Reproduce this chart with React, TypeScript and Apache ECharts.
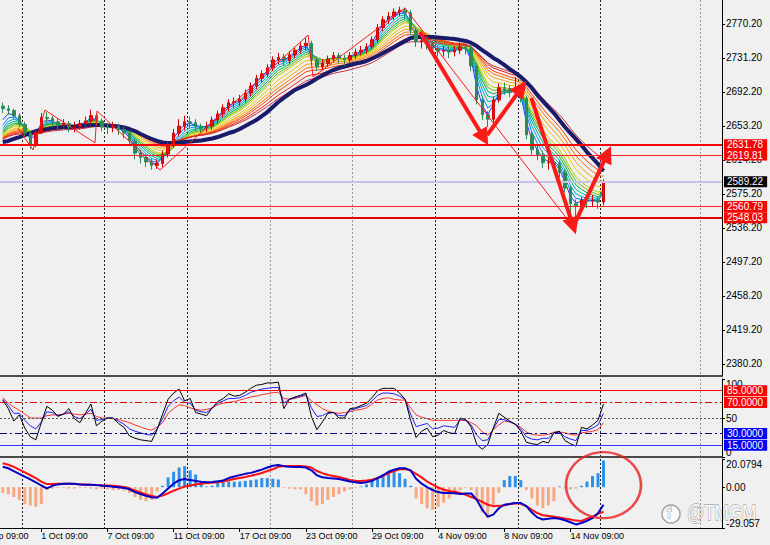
import React, { useEffect, useRef } from "react";
import * as echarts from "echarts";

const FONT = "Liberation Sans";
const N_SLOTS = 131;

const timeLabels = ["1 Oct 09:00", "7 Oct 09:00", "11 Oct 09:00", "17 Oct 09:00", "23 Oct 09:00", "29 Oct 09:00", "4 Nov 09:00", "8 Nov 09:00", "14 Nov 09:00"];
const timeLabelIdx = [7, 19, 31, 43, 55, 67, 79, 91, 103];
const cutLabel = "25 Sep 09:00";
const separatorIdx = [4, 19, 34, 49, 64, 79, 94, 109, 127];

// [open, close, low, high]
const candles = [
  [2676,2673,2668,2680],[2673,2671,2666,2677],[2671,2665,2661,2673],[2665,2655,2652,2668],[2655,2645,2641,2658],
  [2645,2632,2627,2648],[2632,2646,2629,2649],[2646,2663,2644,2668],[2663,2662,2656,2669],[2662,2658,2652,2665],
  [2658,2654,2649,2662],[2654,2656,2650,2661],[2656,2652,2646,2659],[2652,2652,2646,2658],[2652,2656,2649,2660],
  [2656,2659,2652,2664],[2659,2665,2655,2672],[2665,2659,2654,2668],[2659,2652,2647,2662],[2652,2651,2644,2657],
  [2651,2653,2646,2658],[2653,2649,2643,2656],[2649,2645,2639,2652],[2645,2636,2630,2648],[2636,2622,2615,2639],
  [2622,2617,2610,2626],[2617,2612,2606,2621],[2612,2608,2603,2616],[2608,2610,2604,2615],[2610,2621,2606,2625],
  [2621,2631,2617,2636],[2631,2645,2628,2650],[2645,2653,2641,2661],[2653,2658,2648,2665],[2658,2657,2650,2664],
  [2657,2653,2647,2661],[2653,2651,2645,2656],[2651,2653,2646,2658],[2653,2660,2649,2664],[2660,2667,2656,2671],
  [2667,2674,2663,2678],[2674,2680,2670,2684],[2680,2681,2674,2686],[2681,2684,2676,2689],[2684,2691,2680,2695],
  [2691,2699,2687,2703],[2699,2708,2695,2712],[2708,2713,2703,2717],[2713,2720,2709,2724],[2720,2729,2716,2733],
  [2729,2732,2724,2737],[2732,2728,2722,2736],[2728,2735,2724,2739],[2735,2740,2731,2744],[2740,2745,2736,2749],
  [2745,2748,2740,2754],[2748,2729,2724,2751],[2729,2721,2716,2733],[2721,2725,2717,2730],[2725,2730,2721,2734],
  [2730,2734,2726,2738],[2734,2731,2725,2737],[2731,2729,2722,2735],[2729,2734,2725,2738],[2734,2738,2730,2742],
  [2738,2740,2734,2745],[2740,2744,2736,2748],[2744,2752,2741,2756],[2752,2766,2749,2770],[2766,2775,2762,2779],
  [2775,2779,2770,2784],[2779,2784,2775,2788],[2784,2786,2779,2790],[2786,2783,2776,2789],[2783,2763,2758,2786],
  [2763,2750,2744,2766],[2750,2751,2742,2756],[2751,2748,2741,2755],[2748,2742,2736,2751],[2742,2739,2733,2746],
  [2739,2740,2733,2745],[2740,2738,2731,2744],[2738,2740,2733,2745],[2740,2744,2736,2749],[2744,2742,2735,2748],
  [2742,2722,2716,2746],[2722,2683,2678,2725],[2683,2666,2660,2688],[2666,2661,2652,2670],[2661,2683,2657,2687],
  [2683,2697,2680,2702],[2697,2696,2689,2703],[2696,2692,2686,2700],[2692,2697,2688,2709],[2697,2685,2680,2700],
  [2685,2643,2638,2688],[2643,2626,2620,2647],[2626,2620,2614,2631],[2620,2611,2605,2624],[2611,2611,2603,2617],
  [2611,2610,2603,2616],[2610,2600,2594,2614],[2600,2582,2577,2603],[2582,2564,2537,2585],[2564,2561,2540,2569],
  [2561,2568,2555,2572],[2568,2567,2559,2573],[2567,2568,2560,2574],[2568,2566,2558,2572],[2566,2589.22,2562,2592],
];

const longMA = [
  2634.8,2636.0,2638.3,2640.5,2642.8,2645.1,2647.4,2648.6,2649.7,2650.9,
  2651.4,2652.0,2652.0,2652.6,2653.2,2653.7,2654.3,2654.3,2654.3,2653.7,
  2653.2,2652.6,2651.4,2649.7,2647.4,2644.0,2641.1,2638.3,2636.0,2634.2,
  2633.7,2633.7,2634.2,2634.8,2635.4,2636.0,2636.5,2637.7,2638.8,2640.5,
  2642.8,2645.1,2646.9,2649.7,2653.2,2656.6,2660.0,2664.6,2669.2,2674.9,
  2680.7,2685.3,2689.9,2694.5,2697.3,2700.2,2703.6,2707.7,2711.1,2714.5,
  2717.4,2719.7,2721.4,2723.2,2724.9,2726.0,2727.7,2730.6,2733.5,2736.9,
  2740.3,2743.8,2747.2,2750.7,2754.1,2755.3,2755.3,2755.3,2755.3,2754.7,
  2754.1,2753.5,2753.0,2751.8,2750.7,2748.4,2744.9,2740.3,2735.8,2731.2,
  2727.7,2723.2,2718.5,2714.0,2709.4,2703.6,2696.8,2688.7,2681.8,2674.9,
  2668.0,2660.0,2652.0,2645.1,2638.3,2631.4,2623.3,2616.5,2609.6,2601.5,
];

const ribbonPeriods = [2, 3, 4, 5, 6, 7, 8, 10, 12, 14, 16, 19, 22];

const rsiFast = [73,62,46,54,37,26,22,44,65,60,52,55,62,49,44,56,68,40,46,50,50,43,38,27,24,22,21,20,35,55,74,82,87,72,75,57,55,53,63,71,75,81,78,79,83,88,92,93,95,95,96,62,74,77,79,82,52,35,45,56,57,50,50,62,63,66,69,76,85,88,88,88,82,74,47,25,33,37,26,28,34,31,30,50,48,38,16,10,16,37,56,51,46,42,33,19,17,16,20,18,31,33,21,17,14,38,36,41,47,68];
const rsiMid = [74,66,56,56,47,40,36,45,58,57,53,55,58,52,49,55,61,47,48,50,50,46,42,36,33,31,29,28,36,49,65,72,77,70,69,60,58,57,63,69,72,75,75,76,79,83,85,87,88,89,89,69,74,76,78,80,63,52,53,57,57,53,53,60,62,64,66,72,79,82,82,81,78,74,55,39,41,43,36,37,40,39,38,48,47,41,28,21,22,36,48,48,45,42,36,26,23,22,24,24,31,32,26,23,21,34,34,37,41,56];
const rsiSlow = [76,69,64,60,55,50,50,50,53,54,54,55,56,55,54,55,56,52,50,50,49,48,46,44,41,38.5,36,34.5,38,44,56,62,67,66,63,61,60,61,63,67,69,70,71,73,75,77,78,80,81,82.5,83,75,74,75,77,79,72,67,62,59,57,56,57,58,60,61,63,68,73,75,76,74,73,73,63,54,51,49,47,47,47,47,47,47,47,44,40,32,28,35,41,46,45,42,38,32,29,28,28,29,32,32,31,29,28,31,32,33,35,44];

const macdHist = [-4,-5,-7,-9,-12,-13,-14,-12,-2,-1,-0.5,-0.5,-1,-1,-0.5,-0.5,-1,-1.5,-1,-1.5,-2,-2,-2.5,-4,-7,-9,-10,-9,-3,1,7,11,14,15,12,9,4,0.5,1,3,3.5,4,4,4,4.5,5,5.5,6.5,6.5,6,5.5,-0.5,-1,-1.5,-1.5,-5,-10,-13,-12,-9,-7,-5,-3,-1.5,-0.5,0.5,2,4,6,9,11,12,10,6,1,-8,-12,-15,-16,-14,-11,-8,-5,-2,-0.5,-2,-8,-18,-22,-14,-4,5,8,8,5,-2,-8,-13,-15,-13,-10,0.5,-1,-1.5,-1,1,4,8,10,19];
const macdMain = [14.6,13.5,11.5,9.5,7.5,5.5,3.5,1.2,-0.8,1.0,2.0,2.4,2.4,2.4,2.0,1.7,1.7,1.5,1.0,0.8,0.4,0,-0.5,-1.5,-3.5,-4.8,-6.2,-7.2,-7.5,-4.5,-1.0,2.5,5.0,5.8,5.2,4.4,3.8,3.6,3.7,4.2,4.8,6.5,7.6,8.6,9.5,10.2,11.3,12.5,14.0,15.3,15.8,15.0,14.6,14.4,14.4,14.0,12.0,8.5,7.0,6.5,6.2,5.8,5.0,4.0,3.5,3.0,3.5,4.5,6.5,8.5,11.0,12.5,13.5,13.5,12.0,6.0,2.5,0,-2.0,-3.5,-4.1,-4.1,-4.3,-4.8,-4.5,-4.5,-9,-16,-21,-19.5,-15,-12.5,-12,-11.3,-11.3,-13.5,-18,-21.5,-23,-22.5,-22,-22.5,-23.5,-25,-26.5,-25.5,-24,-22,-18.5,-12.5];
const macdSignal = [17.0,16.0,14.5,12.5,10.5,8.5,6.5,4.0,2.2,2.2,2.4,2.4,2.4,2.3,2.1,1.9,1.7,1.6,1.4,1.2,1.0,0.6,0.2,-0.8,-2.5,-3.8,-5.2,-6.3,-6.9,-6.0,-4.3,-2.5,-1.0,0.5,1.2,1.9,2.5,2.9,3.2,3.6,4.0,5.0,5.8,6.6,7.3,8.1,9.0,10.1,11.5,12.8,14.5,15.1,15.1,15.1,15.1,14.8,14.0,11.5,10.0,8.7,8.0,7.3,6.2,5.1,4.6,4.4,4.8,5.3,6.5,8.0,10.0,11.5,12.7,13.0,11.8,9.5,7.0,4.0,1.8,-0.2,-1.8,-2.7,-3.3,-4.1,-5.5,-7.0,-8.5,-10.5,-12.5,-13.5,-13.3,-12.8,-12.0,-11.5,-11.8,-13.5,-16.2,-18.5,-20.0,-20.5,-21.0,-21.5,-22.3,-23.0,-23.8,-24.0,-22.5,-21.0,-19.0,-17.5];

const priceTicks = [2380.2, 2419.2, 2458.2, 2497.2, 2536.2, 2575.2, 2614.2, 2653.2, 2692.2, 2731.2, 2770.2];
const priceMin = 2366.4;
const priceMax = 2797.7;
const priceLevels = [2631.78, 2619.81, 2560.79, 2548.03];
const bidPrice = 2589.22;
const rsiTicks = [0, 50, 100];
const rsiLevels = [85, 70, 50, 30, 15];
const macdTicks = [-29.057, 0, 20.0794];

// drawn annotations in (bar index, price) units
const zigzag = [[2.77,2650.9],[5.49,2625.6],[7.67,2671.5],[16.74,2633.7],[17.1,2670.4],[28.54,2602.7],[55.4,2757.5],[56.3,2709.4],[73.0,2788.5],[103.5,2537.3]];
const arrows = [
  [[75.7,2761.0],[87.3,2639.4]],
  [[87.9,2642.8],[94.1,2696.8]],
  [[95.9,2685.3],[103.5,2538.4]],
  [[103.9,2543.0],[109.7,2621.1]],
];
const circleAnchor = [109, 1.5];
const watermark = "@TMGM";

// styles
const ribbonColors = ["#1e3cff","#0080ff","#00a8d8","#00b0a0","#00b050","#60c000","#b8c800","#e8c800","#ffa000","#ff7000","#ff4000","#f02020","#c83040"];
const priceLevelStyles = [
  { color: "#ff0000", width: 2 },
  { color: "#ff2020", width: 1 },
  { color: "#ff2020", width: 1 },
  { color: "#e00000", width: 2 },
];
const rsiLevelStyles: any[] = [
  { color: "#ff0000", type: "solid", box: "#ff0000" },
  { color: "#e00000", type: [7, 3, 2, 3], box: "#ff0000" },
  { color: "#555555", type: [2, 2], box: null },
  { color: "#000080", type: [7, 3, 2, 3], box: "#0000ff" },
  { color: "#3333ff", type: "solid", box: "#0000ff" },
];
const sepColors = ["#222","#222","#222","#9a9a9a","#9a9a9a","#222","#222","#222","#9a9a9a","#222"];

function ema(src: number[], period: number, seed: number) {
  const k = 2 / (period + 1);
  let e = seed;
  return src.map((v) => {
    e = e + k * (v - e);
    return +e.toFixed(2);
  });
}

export default function App() {
  const ref = useRef<HTMLDivElement>(null);
  useEffect(() => {
    const chart = echarts.init(ref.current!, null, { renderer: "svg" });
    const categories = Array.from({ length: N_SLOTS }, (_, i) => {
      const k = timeLabelIdx.indexOf(i);
      return k >= 0 ? timeLabels[k] : String(i);
    });
    const sepFn = (i: number) => separatorIdx.includes(i);
    const labelFn = (i: number) => timeLabelIdx.includes(i);
    const closes = candles.map((c) => c[1]);
    const ribbons = ribbonPeriods.map((p) => ema(closes, p, longMA[0]));

    const boxLabel = (bg: string, digits: number) => ({
      show: true,
      position: "end",
      distance: 2,
      formatter: (p: any) => Number(p.value).toFixed(digits),
      color: "#ffffff",
      backgroundColor: bg,
      fontSize: 10,
      fontFamily: FONT,
      padding: [1, 4, 0, 3],
    });

    const catAxis = (gridIndex: number, extra: any) => ({
      type: "category",
      gridIndex,
      data: categories,
      boundaryGap: true,
      axisTick: { show: false },
      axisLabel: { show: false },
      splitLine: { show: true, interval: sepFn, lineStyle: { color: sepColors, type: [2, 2], width: 1 } },
      ...extra,
    });

    const yLabel = { fontSize: 10, fontFamily: FONT, color: "#000", margin: 4 };
    const yLine = { show: true, onZero: false, lineStyle: { color: "#000" } };

    const option: any = {
      animation: false,
      backgroundColor: "#f0f0f0",
      textStyle: { fontFamily: FONT },
      grid: [
        { left: 0, right: 48, top: 0, height: 376 },
        { left: 0, right: 48, top: 379, height: 78 },
        { left: 0, right: 48, top: 459, height: 69 },
      ],
      xAxis: [
        catAxis(0, { axisLine: { show: true, onZero: false, lineStyle: { color: "#4a4a4a", width: 2 } } }),
        { type: "value", gridIndex: 0, min: -0.5, max: N_SLOTS - 0.5, show: false, axisLine: { onZero: false } },
        catAxis(1, { axisLine: { show: true, onZero: false, lineStyle: { color: "#4a4a4a", width: 2 } } }),
        catAxis(2, {
          axisLine: { show: true, onZero: false, lineStyle: { color: "#000", width: 1 } },
          axisTick: { show: true, interval: labelFn, alignWithLabel: true, length: 4, lineStyle: { color: "#000" } },
          axisLabel: { show: true, interval: labelFn, align: "left", fontSize: 9, fontFamily: FONT, color: "#000", margin: 3 },
        }),
      ],
      yAxis: [
        {
          type: "value", gridIndex: 0, position: "right", min: priceMin, max: priceMax,
          axisLine: yLine,
          axisTick: { show: true, length: 3, customValues: priceTicks, lineStyle: { color: "#000" } },
          axisLabel: { ...yLabel, customValues: priceTicks, formatter: (v: number) => v.toFixed(2) },
          splitLine: { show: false },
        },
        {
          type: "value", gridIndex: 1, position: "right", min: 0, max: 100,
          axisLine: yLine,
          axisTick: { show: true, length: 3, customValues: rsiTicks, lineStyle: { color: "#000" } },
          axisLabel: { ...yLabel, customValues: rsiTicks, formatter: (v: number) => String(v), verticalAlignMinLabel: "bottom", verticalAlignMaxLabel: "top" },
          splitLine: { show: false },
        },
        {
          type: "value", gridIndex: 2, position: "right", min: macdTicks[0], max: macdTicks[2],
          axisLine: yLine,
          axisTick: { show: true, length: 3, customValues: macdTicks, lineStyle: { color: "#000" } },
          axisLabel: {
            ...yLabel, customValues: macdTicks,
            formatter: (v: number) => (v === 0 ? "0.00" : String(v)),
            verticalAlignMinLabel: "bottom", verticalAlignMaxLabel: "top",
          },
          splitLine: { show: false },
        },
      ],
      series: [
        ...ribbons.map((d, k) => ({
          type: "line", xAxisIndex: 0, yAxisIndex: 0, data: d, showSymbol: false, silent: true, z: 2,
          lineStyle: { color: ribbonColors[k], width: 1 },
        })),
        {
          type: "line", xAxisIndex: 0, yAxisIndex: 0, data: longMA, showSymbol: false, silent: true, z: 3,
          lineStyle: { color: "#1b1b6b", width: 4 },
        },
        {
          type: "candlestick", xAxisIndex: 0, yAxisIndex: 0, data: candles, z: 4, barWidth: 3,
          itemStyle: { color: "#ee1010", color0: "#2e8b57", borderColor: "#d00000", borderColor0: "#2e8b57", borderWidth: 1 },
          markLine: {
            silent: true, symbol: ["none", "none"], animation: false,
            data: [
              ...priceLevels.map((v, k) => ({
                yAxis: v,
                lineStyle: { ...priceLevelStyles[k], type: "solid" },
                label: boxLabel("#ff0000", 2),
              })),
              { yAxis: bidPrice, lineStyle: { color: "#c4c4e6", width: 2, type: "solid" }, label: boxLabel("#000000", 2) },
            ],
          },
        },
        {
          type: "line", xAxisIndex: 1, yAxisIndex: 0, data: zigzag, showSymbol: false, silent: true, z: 6,
          lineStyle: { color: "#ff1a1a", width: 1 },
          markLine: {
            silent: true, symbol: ["none", "triangle"], symbolSize: 17, animation: false,
            lineStyle: { color: "#ff1a1a", width: 4, type: "solid" },
            label: { show: false },
            data: arrows.map(([a, b]) => [{ coord: a }, { coord: b }]),
          },
        },
        {
          type: "line", xAxisIndex: 2, yAxisIndex: 1, data: rsiFast, showSymbol: false, silent: true, z: 4,
          lineStyle: { color: "#000000", width: 1 },
          markLine: {
            silent: true, symbol: ["none", "none"], animation: false,
            data: rsiLevels.map((v, k) => ({
              yAxis: v,
              lineStyle: { color: rsiLevelStyles[k].color, type: rsiLevelStyles[k].type, width: 1 },
              label: rsiLevelStyles[k].box ? boxLabel(rsiLevelStyles[k].box, 4) : { show: false },
            })),
          },
        },
        {
          type: "line", xAxisIndex: 2, yAxisIndex: 1, data: rsiMid, showSymbol: false, silent: true, z: 3,
          lineStyle: { color: "#2020ff", width: 1 },
        },
        {
          type: "line", xAxisIndex: 2, yAxisIndex: 1, data: rsiSlow, showSymbol: false, silent: true, z: 2,
          lineStyle: { color: "#ff3030", width: 1 },
        },
        {
          type: "bar", xAxisIndex: 3, yAxisIndex: 2, barWidth: 3, silent: true, z: 2,
          data: macdHist.map((v) => ({ value: v, itemStyle: { color: v >= 0 ? "#2e90e8" : "#f8a880" } })),
        },
        {
          type: "line", xAxisIndex: 3, yAxisIndex: 2, data: macdMain, showSymbol: false, silent: true, z: 4,
          lineStyle: { color: "#0000c8", width: 2 },
        },
        {
          type: "line", xAxisIndex: 3, yAxisIndex: 2, data: macdSignal, showSymbol: false, silent: true, z: 3,
          lineStyle: { color: "#ff1010", width: 2 },
        },
        {
          type: "scatter", xAxisIndex: 3, yAxisIndex: 2, data: [circleAnchor], symbol: "circle", symbolSize: [75, 66],
          clip: false, silent: true, z: 10,
          itemStyle: { color: "rgba(0,0,0,0)", borderColor: "#e82020", borderWidth: 2.5 },
        },
      ],
      graphic: [
        {
          type: "text", x: -25, y: 531,
          style: { text: cutLabel, fontSize: 9, fontFamily: FONT, fill: "#000" },
        },
        {
          type: "circle", shape: { cx: 671, cy: 514, r: 9 },
          style: { fill: "#fafafa", stroke: "#a0a0a0", lineWidth: 1.5 },
        },
        {
          type: "text", x: 667, y: 505,
          style: { text: "f", fontSize: 15, fontFamily: FONT, fill: "#ffffff", stroke: "#a0a0a0", lineWidth: 1 },
        },
        {
          type: "text", x: 687, y: 502, scaleY: 1.25,
          style: { text: watermark, fontSize: 17, fontFamily: FONT, fill: "#fbfbfb", stroke: "#a8a8a8", lineWidth: 1 },
        },
      ],
    };
    chart.setOption(option);
    return () => chart.dispose();
  }, []);
  return <div ref={ref} style={{ position: "fixed", left: 0, top: 0, width: 770, height: 545 }} />;
}
